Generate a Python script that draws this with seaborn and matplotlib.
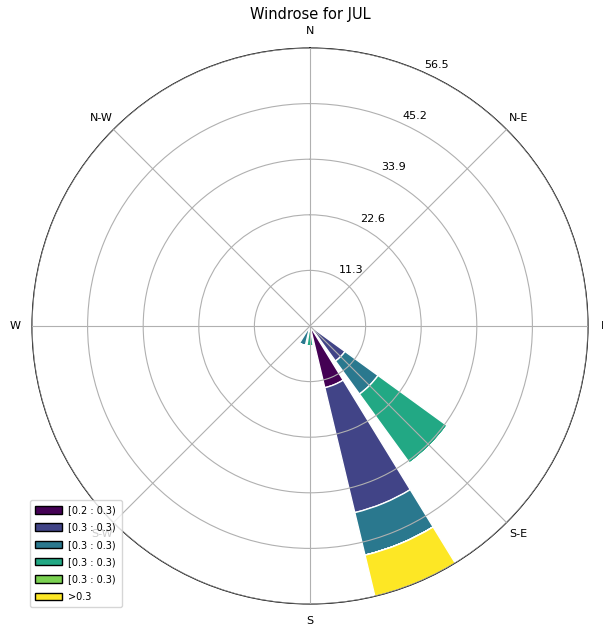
import numpy as np
import matplotlib
matplotlib.use("Agg")
import matplotlib.pyplot as plt
from matplotlib.patches import Patch
import seaborn as sns

# wind frequency (%) per direction sector, stacked by speed bin
sector_deg = [135.0, 157.5, 180.0, 202.5]
bin_labels = ["[0.2 : 0.3)", "[0.3 : 0.3)", "[0.3 : 0.3)", "[0.3 : 0.3)", "[0.3 : 0.3)", ">0.3"]
bin0 = [1.0, 12.9, 0.3, 0.3]
bin1 = [7.8, 26.1, 0.3, 0.4]
bin2 = [8.3, 8.9, 0.5, 3.4]
bin3 = [17.4, 0.0, 3.0, 0.0]
bin4 = [0.0, 0.0, 0.0, 0.0]
bin5 = [0.0, 8.6, 0.0, 0.0]
compass_labels = ["N", "N-E", "E", "S-E", "S", "S-W", "W", "N-W"]

bins = [bin0, bin1, bin2, bin3, bin4, bin5]
cmap = sns.color_palette("viridis", as_cmap=True)
colors = cmap(np.linspace(0, 1, len(bins)))

fig = plt.figure(figsize=(6.03, 6.28), dpi=100)
ax = fig.add_axes([32 / 603, 24 / 628, 556 / 603, 556 / 628], projection="polar")
ax.set_theta_zero_location("N")
ax.set_theta_direction(-1)

theta = np.deg2rad(sector_deg)
width = 2 * np.pi / 16 * 0.8
bottom = np.zeros(len(sector_deg))
for vals, col in zip(bins, colors):
    vals = np.array(vals)
    ax.bar(theta, vals, width=width, bottom=bottom, color=col,
           edgecolor="white", linewidth=1, zorder=1)
    bottom += vals

rmax = bottom.max()
ax.set_ylim(0, rmax)
radii = np.linspace(0, rmax, 6)[1:]
ax.set_rgrids(radii, labels=[""] * len(radii))
# radius labels sit a little to the right of the 22.5 deg spoke
for r in radii:
    ax.annotate("%.1f" % r, xy=(np.deg2rad(22.5), r), xytext=(14.4, 3.2),
                textcoords="offset points", ha="center", va="center", fontsize=8,
                annotation_clip=False)
ax.set_thetagrids(np.arange(0, 360, 45), labels=compass_labels, fontsize=8)
ax.tick_params(axis="x", pad=1.5)
ax.grid(True, color="#b0b0b0", linewidth=0.8)
ax.set_axisbelow(False)

ax.set_title("Windrose for JUL", fontsize=10.5, y=1.038)

handles = [Patch(facecolor=c, edgecolor="black", label=l) for c, l in zip(colors, bin_labels)]
fig.legend(handles=handles, loc="lower left", bbox_to_anchor=(30 / 603, 21 / 628),
           bbox_transform=fig.transFigure, borderaxespad=0, fontsize=7,
           handlelength=2.7, handleheight=0.8, labelspacing=0.75, handletextpad=0.7,
           borderpad=0.55)

fig.savefig("out.png", dpi=100)
